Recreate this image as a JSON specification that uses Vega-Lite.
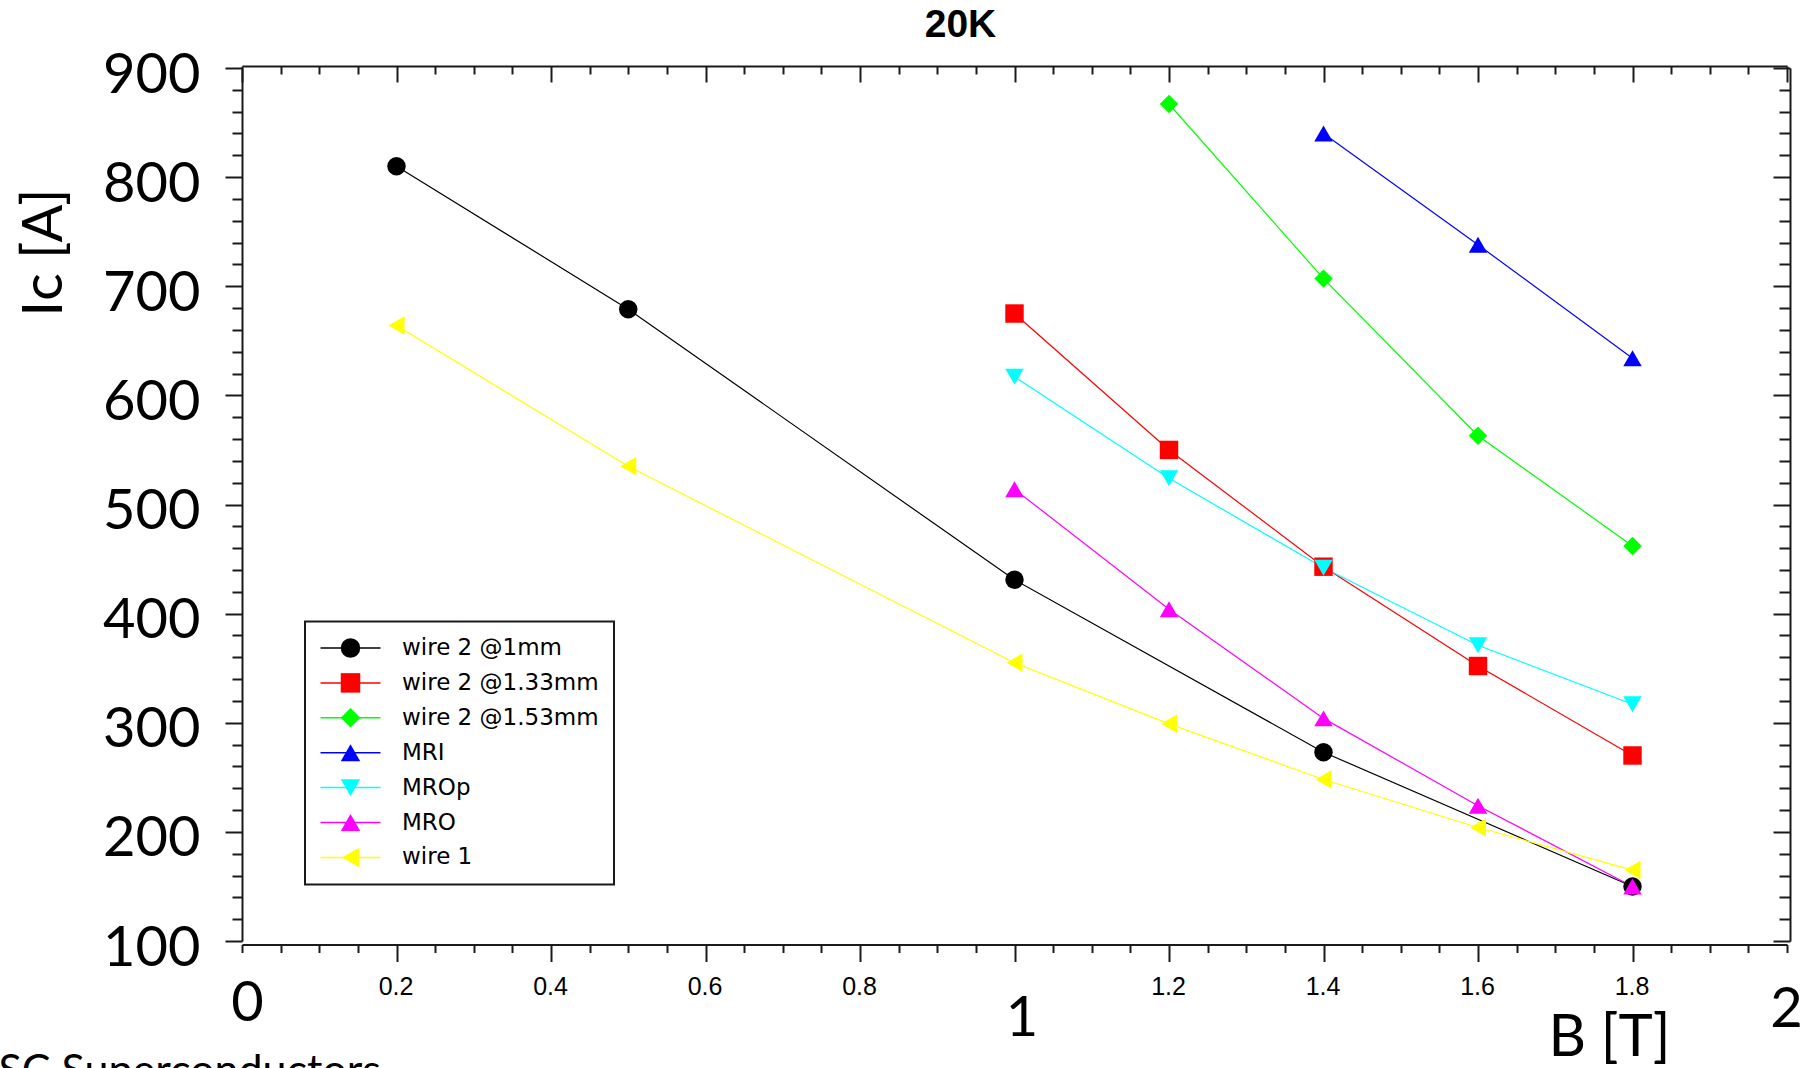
{
  "$schema": "https://vega.github.io/schema/vega-lite/v6.json",
  "width": 1545,
  "height": 873,
  "autosize": {"type": "none"},
  "padding": {"left": 242, "top": 68, "right": 32, "bottom": 127},
  "background": "white",
  "title": {"text": "20K", "font": "Liberation Sans", "fontSize": 39, "fontWeight": "bold", "color": "black", "anchor": "middle", "frame": "group", "dx": -54, "dy": 38, "offset": 9, "baseline": "alphabetic"},
  "config": {
    "view": {"stroke": null, "fill": "white"},
    "axis": {"grid": false, "domainColor": "#1a1a1a", "domainWidth": 2, "tickColor": "#1a1a1a", "tickWidth": 2, "labelColor": "black", "titleColor": "black", "labelOverlap": false, "labelBound": false, "labelFlush": false}
  },
  "data": {"values": [
    {"series": "wire 2 @1mm", "B": 0.2, "Ic": 810},
    {"series": "wire 2 @1mm", "B": 0.5, "Ic": 679},
    {"series": "wire 2 @1mm", "B": 1.0, "Ic": 431},
    {"series": "wire 2 @1mm", "B": 1.4, "Ic": 273},
    {"series": "wire 2 @1mm", "B": 1.8, "Ic": 150},
    {"series": "wire 2 @1.33mm", "B": 1.0, "Ic": 675},
    {"series": "wire 2 @1.33mm", "B": 1.2, "Ic": 550},
    {"series": "wire 2 @1.33mm", "B": 1.4, "Ic": 443},
    {"series": "wire 2 @1.33mm", "B": 1.6, "Ic": 352},
    {"series": "wire 2 @1.33mm", "B": 1.8, "Ic": 270},
    {"series": "wire 2 @1.53mm", "B": 1.2, "Ic": 867},
    {"series": "wire 2 @1.53mm", "B": 1.4, "Ic": 707},
    {"series": "wire 2 @1.53mm", "B": 1.6, "Ic": 563},
    {"series": "wire 2 @1.53mm", "B": 1.8, "Ic": 462},
    {"series": "MRI", "B": 1.4, "Ic": 840},
    {"series": "MRI", "B": 1.6, "Ic": 738},
    {"series": "MRI", "B": 1.8, "Ic": 634},
    {"series": "MROp", "B": 1.0, "Ic": 617},
    {"series": "MROp", "B": 1.2, "Ic": 524},
    {"series": "MROp", "B": 1.4, "Ic": 442},
    {"series": "MROp", "B": 1.6, "Ic": 371},
    {"series": "MROp", "B": 1.8, "Ic": 317},
    {"series": "MRO", "B": 1.0, "Ic": 514},
    {"series": "MRO", "B": 1.2, "Ic": 404},
    {"series": "MRO", "B": 1.4, "Ic": 304},
    {"series": "MRO", "B": 1.6, "Ic": 224},
    {"series": "MRO", "B": 1.8, "Ic": 150},
    {"series": "wire 1", "B": 0.2, "Ic": 664},
    {"series": "wire 1", "B": 0.5, "Ic": 535},
    {"series": "wire 1", "B": 1.0, "Ic": 355},
    {"series": "wire 1", "B": 1.2, "Ic": 299},
    {"series": "wire 1", "B": 1.4, "Ic": 248},
    {"series": "wire 1", "B": 1.6, "Ic": 204},
    {"series": "wire 1", "B": 1.8, "Ic": 165}
  ]},
  "layer": [
    {
      "mark": {"type": "line", "strokeWidth": 1.2},
      "encoding": {
        "x": {"field": "B", "type": "quantitative", "scale": {"domain": [0, 2], "nice": false, "zero": false},
          "axis": {
            "orient": "bottom", "offset": 3.5,
            "values": [0,0.05,0.1,0.15,0.2,0.25,0.3,0.35,0.4,0.45,0.5,0.55,0.6,0.65,0.7,0.75,0.8,0.85,0.9,0.95,1,1.05,1.1,1.15,1.2,1.25,1.3,1.35,1.4,1.45,1.5,1.55,1.6,1.65,1.7,1.75,1.8,1.85,1.9,1.95,2],
            "labelExpr": "(datum.value == 0 || datum.value == 1 || datum.value == 2) ? format(datum.value, 'd') : (abs(datum.value*5 - round(datum.value*5)) < 0.001 ? format(datum.value, '.1f') : '')",
            "tickSize": {"condition": {"test": "abs(datum.value*5 - round(datum.value*5)) < 0.001 && datum.value > 0.01 && datum.value < 1.99", "value": 17}, "value": 8},
            "labelPadding": {"condition": [{"test": "datum.value == 0", "value": 23.5}, {"test": "datum.value == 1", "value": 29.5}, {"test": "datum.value == 2", "value": 29.5}], "value": 13},
            "labelOffset": {"condition": [{"test": "datum.value == 0", "value": 5}, {"test": "datum.value == 1", "value": 7}], "value": -1},
            "labelFont": {"condition": {"test": "datum.value == 0 || datum.value == 1 || datum.value == 2", "value": "Lato"}, "value": "Liberation Sans"},
            "labelFontSize": {"condition": {"test": "datum.value == 0 || datum.value == 1 || datum.value == 2", "value": 56}, "value": 25},
            "title": "B [T]", "titleFont": "Lato", "titleFontSize": 58, "titleFontWeight": "normal",
            "titleX": 1367, "titleY": 111, "titleAlign": "center", "titleBaseline": "alphabetic", "titleAngle": 0
          }
        },
        "y": {"field": "Ic", "type": "quantitative", "scale": {"domain": [100, 900], "nice": false, "zero": false},
          "axis": {
            "orient": "left",
            "values": [100,120,140,160,180,200,220,240,260,280,300,320,340,360,380,400,420,440,460,480,500,520,540,560,580,600,620,640,660,680,700,720,740,760,780,800,820,840,860,880,900],
            "labelExpr": "datum.value % 100 == 0 ? format(datum.value, 'd') : ''",
            "tickSize": {"condition": {"test": "datum.value % 100 == 0", "value": 17}, "value": 10},
            "labelPadding": 25, "labelFont": "Lato", "labelFontSize": 56, "labelOffset": 7,
            "title": "Iᴄ [A]", "titleFont": "Lato", "titleFontSize": 56, "titleFontWeight": "normal",
            "titleAngle": -90, "titleX": -198, "titleY": 184, "titleAlign": "center", "titleBaseline": "middle"
          }
        },
        "color": {"field": "series", "type": "nominal",
          "scale": {"domain": ["wire 2 @1mm", "wire 2 @1.33mm", "wire 2 @1.53mm", "MRI", "MROp", "MRO", "wire 1"],
                    "range": ["#000000", "#ff0000", "#00ff00", "#0000ff", "#00ffff", "#ff00ff", "#ffff00"]},
          "legend": {"orient": "none", "legendX": 63, "legendY": 553.5, "title": null, "padding": 15, "rowPadding": 10.9,
            "symbolType": "M-4,0H4", "symbolSize": 225, "symbolStrokeWidth": 1.5, "symbolOffset": 19, "labelOffset": 40,
            "labelFont": "DejaVu Sans", "labelFontSize": 23, "labelColor": "black", "labelLimit": 400,
            "strokeColor": "#1a1a1a",
            "encode": {"legend": {"update": {"strokeWidth": {"value": 2}}}}}
        }
      }
    },
    {
      "mark": {"type": "point", "filled": true, "size": 340, "opacity": 1},
      "encoding": {
        "x": {"field": "B", "type": "quantitative", "scale": {"domain": [0, 2], "nice": false, "zero": false},
          "axis": {
            "orient": "top", "offset": 2, "labels": false,
            "values": [0,0.05,0.1,0.15,0.2,0.25,0.3,0.35,0.4,0.45,0.5,0.55,0.6,0.65,0.7,0.75,0.8,0.85,0.9,0.95,1,1.05,1.1,1.15,1.2,1.25,1.3,1.35,1.4,1.45,1.5,1.55,1.6,1.65,1.7,1.75,1.8,1.85,1.9,1.95,2],
            "tickSize": {"condition": {"test": "abs(datum.value*5 - round(datum.value*5)) < 0.001", "value": -16}, "value": -8},
            "title": "SC Superconductors", "titleFont": "Lato", "titleFontSize": 43, "titleFontWeight": "normal",
            "titleX": -244, "titleY": 1018.5, "titleAlign": "left", "titleBaseline": "alphabetic", "titleAngle": 0
          }
        },
        "y": {"field": "Ic", "type": "quantitative", "scale": {"domain": [100, 900], "nice": false, "zero": false},
          "axis": {
            "orient": "right", "offset": 3, "labels": false,
            "values": [100,120,140,160,180,200,220,240,260,280,300,320,340,360,380,400,420,440,460,480,500,520,540,560,580,600,620,640,660,680,700,720,740,760,780,800,820,840,860,880,900],
            "tickSize": {"condition": {"test": "datum.value % 100 == 0", "value": -17}, "value": -11},
            "title": null
          }
        },
        "color": {"field": "series", "type": "nominal",
          "scale": {"domain": ["wire 2 @1mm", "wire 2 @1.33mm", "wire 2 @1.53mm", "MRI", "MROp", "MRO", "wire 1"],
                    "range": ["#000000", "#ff0000", "#00ff00", "#0000ff", "#00ffff", "#ff00ff", "#ffff00"]},
          "legend": {"orient": "none", "legendX": 63, "legendY": 553.5, "title": null, "padding": 15, "rowPadding": 10.9,
            "symbolSize": 380, "symbolOffset": 19, "labelOffset": 40, "symbolStrokeWidth": 0,
            "labelFont": "DejaVu Sans", "labelFontSize": 23, "labelOpacity": 0, "labelLimit": 400}
        },
        "shape": {"field": "series", "type": "nominal",
          "scale": {"domain": ["wire 2 @1mm", "wire 2 @1.33mm", "wire 2 @1.53mm", "MRI", "MROp", "MRO", "wire 1"],
                    "range": ["circle", "square", "diamond", "triangle-up", "triangle-down", "triangle-up", "triangle-left"]},
          "legend": {"orient": "none", "legendX": 63, "legendY": 553.5, "title": null, "padding": 15, "rowPadding": 10.9,
            "symbolSize": 380, "symbolOffset": 19, "labelOffset": 40, "symbolStrokeWidth": 0,
            "labelFont": "DejaVu Sans", "labelFontSize": 23, "labelOpacity": 0, "labelLimit": 400}
        }
      }
    }
  ],
  "resolve": {"scale": {"color": "independent", "shape": "independent"}, "axis": {"x": "independent", "y": "independent"}}
}
